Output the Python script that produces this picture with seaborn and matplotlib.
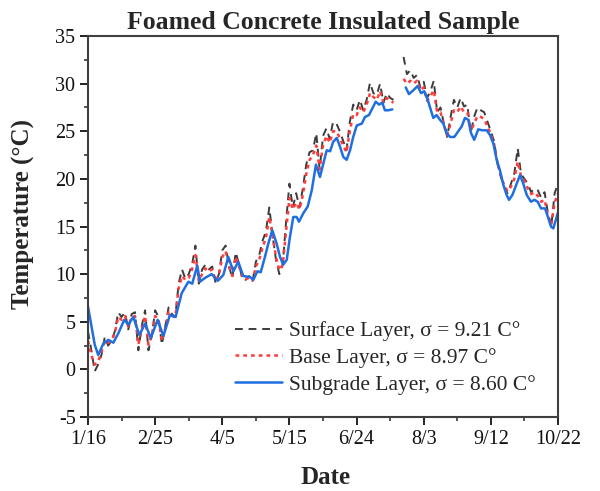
import numpy as np
import pandas as pd
import matplotlib
matplotlib.use("Agg")
import matplotlib.pyplot as plt
import seaborn as sns
from matplotlib.lines import Line2D
from matplotlib.ticker import MultipleLocator, FixedLocator

nan = np.nan

# ---- axis ticks ----
tick_days = [0, 40, 80, 120, 160, 200, 240, 280]
tick_labels = ["1/16", "2/25", "4/5", "5/15", "6/24", "8/3", "9/12", "10/22"]

# ---- surface & base layers: read every 2 days (day 0 = 1/16) ----
grid_days = list(range(0, 281, 2))
surface_vals = [
    4.0, 2.0, -0.2, 0.5, 1.5, 3.4, 2.5, 3.0, 4.0, 6.0,
    5.5, 6.0, 4.2, 5.8, 6.0, 2.0, 4.5, 6.2, 2.0, 3.5,
    6.2, 5.5, 2.6, 4.5, 6.5, 5.8, 5.5, 9.0, 10.5, 9.5,
    10.0, 11.0, 13.0, 9.0, 10.5, 11.0, 10.5, 10.8, 9.1, 10.0,
    12.5, 13.0, 10.8, 9.6, 12.3, 11.0, 9.5, 9.4, 9.8, 9.2,
    11.3, 12.0, 13.5, 14.5, 17.0, 14.0, 11.5, 10.0, 11.0, 15.5,
    19.5, 17.0, 18.5, 17.0, 19.0, 21.5, 22.8, 23.0, 24.8, 21.0,
    24.5, 25.3, 24.2, 26.0, 25.8, 25.0, 24.0, 23.0, 26.0, 27.8,
    27.2, 28.3, 27.2, 28.3, 30.1, 29.0, 28.8, 30.0, 28.0, 29.0,
    28.5, 28.3, nan, nan, 32.8, 31.0, 31.4, 30.6, 30.9, 29.6,
    30.2, 28.5, 29.2, 30.3, 27.0, 27.5, 25.8, 24.4, 26.5, 28.3,
    27.5, 28.5, 27.6, 27.8, 24.8, 26.5, 27.5, 27.2, 27.0, 26.0,
    25.0, 23.9, 21.5, 20.2, 19.1, 18.5, 19.5, 20.6, 23.2, 20.5,
    20.0, 19.5, 18.6, 19.0, 18.8, 18.0, 18.6, 16.4, 15.0, 18.5,
    19.5,
]
base_vals = [
    3.0, 1.5, 0.5, 0.8, 1.8, 3.0, 2.8, 3.0, 3.8, 5.5,
    5.2, 5.6, 4.5, 5.5, 5.6, 2.6, 4.2, 5.6, 2.6, 3.6,
    5.6, 5.2, 3.0, 4.3, 6.0, 5.6, 5.5, 8.5, 9.8, 9.4,
    9.6, 10.5, 12.0, 9.3, 10.0, 10.6, 10.3, 10.5, 9.3, 9.9,
    11.8, 12.4, 10.8, 9.8, 11.8, 10.8, 9.6, 9.5, 9.6, 9.3,
    10.8, 11.5, 12.8, 13.8, 16.0, 14.0, 11.8, 10.4, 11.0, 14.5,
    18.0, 16.8, 17.5, 16.8, 18.3, 20.5, 22.0, 22.5, 23.5, 21.0,
    23.5, 24.5, 23.8, 25.0, 25.0, 24.3, 23.5, 22.8, 25.0, 26.8,
    26.7, 27.5, 27.0, 27.8, 29.0, 28.6, 28.3, 29.2, 28.0, 28.5,
    28.2, 28.0, nan, nan, 30.5, 30.0, 30.3, 30.0, 30.3, 29.3,
    29.6, 28.2, 28.7, 29.3, 27.0, 27.0, 25.6, 24.6, 25.8, 27.2,
    27.0, 27.6, 27.0, 27.0, 25.0, 25.8, 26.6, 26.5, 26.3, 25.5,
    24.7, 23.6, 21.6, 20.3, 19.3, 18.7, 19.2, 20.0, 21.8, 20.3,
    19.8, 19.0, 18.4, 18.6, 18.2, 17.6, 17.8, 16.2, 15.2, 17.5,
    18.5,
]

# ---- subgrade layer: read at its turning points ----
subgrade_days = [
    0, 2, 4, 6.1, 9.1, 12.1, 15.1, 18.1, 21.6, 24,
    27, 30.6, 34, 37.4, 41.5, 44.9, 48.8, 52.2, 55.8, 59.8,
    62.1, 65.1, 66.7, 69.7, 73.7, 77.3, 80.6, 83.6, 86.6, 89.5,
    92.5, 96.5, 98.5, 100.9, 102.9, 105.4, 107.4, 109.8, 112.4, 114.4,
    116.3, 118.4, 120.3, 122.3, 124.3, 125.7, 128.3, 130.9, 133.3, 135.8,
    138.2, 140.2, 142.2, 144.2, 146.1, 148.2, 150.1, 152.1, 154.1, 156.1,
    158.0, 160.1, 163.1, 165.0, 167.4, 169.4, 171.4, 173.4, 175.3, 176.9,
    178.9, 181.3, 185.0,
    189.3, 191.2, 193.8, 196.4, 198.4, 200.3, 202.4, 204.3, 205.7, 207.7,
    209.7, 211.7, 213.7, 215.7, 218.2, 220.6, 222.6, 224.6, 226.6, 228.2,
    230.1, 232.5, 234.9, 237.5, 239.5, 241.5, 243.5, 245.4, 247.4, 249.4,
    250.8, 252.8, 255.4, 257.4, 259.3, 261.4, 263.9, 265.9, 267.9, 269.9,
    272.3, 274.2, 275.8, 277.2, 279.2, 280,
]
subgrade_vals = [
    6.6, 4.6, 2.6, 1.5, 2.7, 3.1, 2.8, 3.8, 5.2, 4.7,
    5.5, 3.6, 4.8, 3.3, 5.2, 3.5, 5.7, 5.5, 8.0, 9.2,
    9.0, 10.9, 9.2, 9.6, 10.0, 9.3, 9.9, 11.8, 10.3, 11.3,
    9.8, 9.7, 9.4, 10.3, 10.2, 11.8, 13.2, 14.6, 13.2, 11.8,
    11.0, 11.5, 13.9, 16.0, 16.0, 15.5, 16.4, 17.1, 18.8, 21.5,
    20.2, 21.6, 23.0, 22.9, 23.9, 24.3, 23.4, 22.3, 22.0, 23.0,
    24.4, 25.6, 25.8, 26.5, 26.7, 27.4, 28.1, 27.8, 28.0, 27.2,
    27.2, 27.3, nan,
    29.6, 28.9, 29.3, 29.75, 29.0, 29.2, 28.3, 27.2, 26.4, 26.7,
    26.2, 25.8, 24.8, 24.4, 24.4, 25.0, 25.5, 26.4, 26.2, 24.8,
    24.1, 25.2, 25.1, 25.1, 24.6, 23.7, 22.0, 20.9, 19.4, 18.3,
    17.8, 18.3, 19.5, 20.4, 19.5, 18.3, 17.6, 17.8, 17.6, 16.9,
    16.9, 15.9, 15.0, 14.8, 16.0, 16.5,
]

series_labels = [
    "Surface Layer, σ = 9.21 C°",
    "Base Layer, σ = 8.97 C°",
    "Subgrade Layer, σ = 8.60 C°",
]
series_colors = ["#3c3c3c", "#ff3b3b", "#1f6fe0"]


def to_frame(days, vals):
    df = pd.DataFrame({"day": days, "temp": vals})
    df["seg"] = df["temp"].isna().cumsum()
    return df.dropna()


sns.set_theme(style="ticks")
plt.rcParams["font.family"] = ["Liberation Serif", "DejaVu Serif"]
plt.rcParams["axes.unicode_minus"] = False

fig = plt.figure(figsize=(6.0, 4.91), dpi=100)
ax = fig.add_axes([88 / 600, 1 - 417 / 491, 470 / 600, 381 / 491])

frames = [to_frame(grid_days, surface_vals),
          to_frame(grid_days, base_vals),
          to_frame(subgrade_days, subgrade_vals)]
styles = [dict(linestyle=(0, (4, 3)), linewidth=1.4),
          dict(linestyle=(0, (1.5, 1.6)), linewidth=1.8),
          dict(linestyle="-", linewidth=1.8)]

for df, col, st in zip(frames, series_colors, styles):
    sns.lineplot(data=df, x="day", y="temp", units="seg", estimator=None,
                 color=col, ax=ax, **st)

handles = [Line2D([0], [0], color=c, **st) for c, st in zip(series_colors, styles)]
ax.legend(handles, series_labels, loc="upper left", frameon=False,
          bbox_to_anchor=(235 / 600, 1 - 321 / 491), bbox_transform=fig.transFigure,
          borderpad=0, borderaxespad=0, handlelength=2.2, handletextpad=0.3,
          labelspacing=0.32, fontsize=15.5)

ax.set_xlim(0, 280)
ax.set_ylim(-5, 35)
ax.xaxis.set_major_locator(FixedLocator(tick_days))
ax.set_xticklabels(tick_labels)
ax.xaxis.set_minor_locator(MultipleLocator(20))
ax.yaxis.set_major_locator(MultipleLocator(5))
ax.yaxis.set_minor_locator(MultipleLocator(2.5))
ax.tick_params(axis="both", which="major", direction="out", length=6, width=1.3,
               labelsize=14.5, colors="#111111", pad=3)
ax.tick_params(axis="both", which="minor", direction="out", length=3, width=1.1)
ax.tick_params(top=False, right=False, which="both")
for sp in ax.spines.values():
    sp.set_visible(True)
    sp.set_linewidth(1.5)
    sp.set_color("#404040")

ax.set_xlabel("")
ax.set_ylabel("")
ax.set_title("Foamed Concrete Insulated Sample", fontsize=18.5, fontweight="bold", pad=5)
fig.text(23 / 600, 1 - 214 / 491, "Temperature (°C)", rotation=90, ha="center",
         va="center", fontsize=18, fontweight="bold")
fig.text(326 / 600, 1 - 477 / 491, "Date", ha="center", va="center",
         fontsize=18, fontweight="bold")

fig.savefig("out.png", dpi=100)
